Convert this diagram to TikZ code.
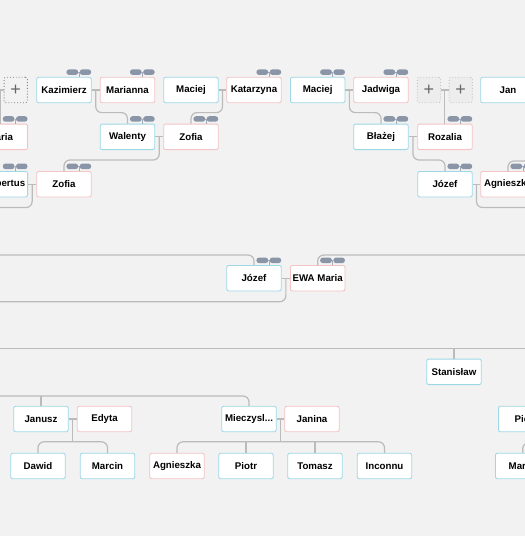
\documentclass[tikz,border=0pt]{standalone}
\usepackage{fontspec}
\setmainfont{Liberation Sans}
\usetikzlibrary{positioning, calc}

\definecolor{bgcol}{HTML}{F2F2F2}
\definecolor{malecol}{HTML}{9ED8E6}
\definecolor{femalecol}{HTML}{F4C3C3}
\definecolor{linkcol}{HTML}{BBBBBB}
\definecolor{pillcol}{HTML}{8A96A8}

\tikzset{
	person/.style={draw, rectangle, rounded corners=2pt, fill=white, line width=0.9pt, minimum width=54.5pt, minimum height=25.5pt, inner sep=0pt, font=\fontsize{9.7}{11}\selectfont\bfseries},
	male/.style={person, draw=malecol},
	female/.style={person, draw=femalecol},
	addbox/.style={draw, rectangle, rounded corners=2pt, dotted, line width=0.9pt, minimum width=23.3pt, minimum height=25.5pt, inner sep=0pt, text=black!60, font=\fontsize{18}{18}\selectfont},
	link/.style={draw=linkcol, line width=1.2pt, rounded corners=6pt},
}

\newcommand{\pills}[1]{%
	\begin{scope}[shift={(#1.north east)}]
		\draw[pillcol!80, line width=0.7pt] (-13.5,-4.6) -- (-12,-4.6) (-12.75,-4.6) -- (-12.75,0);
		\fill[pillcol, rounded corners=2.6pt] (-25.25,-7.4) rectangle (-13.5,-1.9);
		\fill[pillcol, rounded corners=2.6pt] (-12,-7.4) rectangle (-0.5,-1.9);
	\end{scope}}

\begin{document}
\begin{tikzpicture}[x=1pt, y=-1pt]

	\useasboundingbox (0,0) rectangle (525,536);
	\fill[bgcol] (0,0) rectangle (525,536);
	\clip (0,0) rectangle (525,536);

	% oldest generation
	\node[addbox, draw=black!50, fill=bgcol] (plusA) at (15.7, 90) {+};
	\node[male] (kazimierz) at (64, 90) {Kazimierz};
	\node[female] (marianna) at (127.5, 90) {Marianna};
	\node[male] (maciejA) at (191, 90) {Maciej};
	\node[female] (katarzyna) at (254, 90) {Katarzyna};
	\node[male] (maciejB) at (317.7, 90) {Maciej};
	\node[female] (jadwiga) at (381, 90) {Jadwiga};
	\node[addbox, draw=black!22, fill=black!7] (plusB) at (429, 90) {+};
	\node[addbox, draw=black!22, fill=black!7] (plusC) at (460.7, 90) {+};
	\node[male] (jan) at (508, 90) {Jan};

	\node[female] (maria) at (0.3, 136.8) {Maria};
	\node[male] (walenty) at (127.5, 136.8) {Walenty};
	\node[female] (zofiaA) at (191, 136.8) {Zofia};
	\node[male] (blazej) at (381, 136.8) {Błażej};
	\node[female] (rozalia) at (445, 136.8) {Rozalia};

	\node[male, text width=50pt, align=right] (rupertus) at (0.3, 184.2) {Rupertus};
	\node[female] (zofiaB) at (64, 184.2) {Zofia};
	\node[male] (jozefA) at (445, 184.2) {Józef};
	\node[female] (agnieszkaA) at (508, 184.2) {Agnieszka};

	\node[male] (jozefB) at (254, 278.2) {Józef};
	\node[female] (ewa) at (317.7, 278.2) {EWA Maria};

	\node[male] (stanislaw) at (454, 371.8) {Stanisław};

	\node[male] (janusz) at (41, 419) {Janusz};
	\node[female] (edyta) at (104.5, 419) {Edyta};
	\node[male] (mieczyslaw) at (249, 419) {Mieczysl...};
	\node[female] (janina) at (312, 419) {Janina};
	\node[male] (piotrA) at (525.7, 419) {Piotr};

	\node[male] (dawid) at (38, 466) {Dawid};
	\node[male] (marcin) at (107.5, 466) {Marcin};
	\node[female] (agnieszkaB) at (177, 466) {Agnieszka};
	\node[male] (piotrB) at (246, 466) {Piotr};
	\node[male] (tomasz) at (315, 466) {Tomasz};
	\node[male] (inconnu) at (384.5, 466) {Inconnu};
	\node[male] (marek) at (522.7, 466) {Marek};

	% couples and their children
	\coordinate (pa) at ($(plusA.west)+(-3,0)$);
	\draw[link] (plusA.west) -- ++(-10,0);
	\draw[link] (pa) -- (pa |- maria.north);

	\coordinate (km) at ($(kazimierz.east)!.5!(marianna.west)$);
	\draw[link] (kazimierz.east) -- (marianna.west);
	\draw[link] (km) |- ($(walenty.north)+(0,-11)$) -- (walenty.north);

	\coordinate (mk) at ($(maciejA.east)!.5!(katarzyna.west)$);
	\draw[link] (maciejA.east) -- (katarzyna.west);
	\draw[link] (mk) |- ($(zofiaA.north)+(0,-11)$) -- (zofiaA.north);

	\coordinate (mj) at ($(maciejB.east)!.5!(jadwiga.west)$);
	\draw[link] (maciejB.east) -- (jadwiga.west);
	\draw[link] (mj) |- ($(blazej.north)+(0,-11)$) -- (blazej.north);

	\coordinate (pp) at ($(plusB.east)!.5!(plusC.west)$);
	\draw[link] (plusB.east) -- (plusC.west);
	\draw[link] (pp) -- (pp |- rozalia.north);

	\coordinate (wz) at ($(walenty.east)!.5!(zofiaA.west)$);
	\draw[link] (walenty.east) -- (zofiaA.west);
	\draw[link] (wz) |- ($(zofiaB.north)+(0,-11)$) -- (zofiaB.north);

	\coordinate (br) at ($(blazej.east)!.5!(rozalia.west)$);
	\draw[link] (blazej.east) -- (rozalia.west);
	\draw[link] (br) |- ($(jozefA.north)+(0,-11)$) -- (jozefA.north);

	\coordinate (offA) at (-10, 207.5);
	\coordinate (rz) at ($(rupertus.east)!.5!(zofiaB.west)$);
	\draw[link] (rupertus.east) -- (zofiaB.west);
	\draw[link] (rz) |- (offA);

	\coordinate (offB) at (535, 207.5);
	\coordinate (ja) at ($(jozefA.east)!.5!(agnieszkaA.west)$);
	\draw[link] (jozefA.east) -- (agnieszkaA.west);
	\draw[link] (ja) |- (offB);

	\coordinate (offC) at (535, 161);
	\draw[link] (agnieszkaA.north) |- (offC);

	\coordinate (offD) at (-10, 255);
	\coordinate (offE) at (535, 255);
	\draw[link] (offD) -| (jozefB.north);
	\draw[link] (ewa.north) |- (offE);

	\coordinate (offF) at (-10, 301.7);
	\coordinate (je) at ($(jozefB.east)!.5!(ewa.west)$);
	\draw[link] (jozefB.east) -- (ewa.west);
	\draw[link] (je) |- (offF);

	\coordinate (offG) at (-10, 348.3);
	\coordinate (offH) at (535, 348.3);
	\draw[link] (offG) -- (offH);
	\draw[link] (stanislaw.north) -- (stanislaw.north |- offG);

	\coordinate (offI) at (-10, 396);
	\draw[link] (offI) -| (mieczyslaw.north);
	\draw[link] (janusz.north) -- (janusz.north |- offI);

	\coordinate (barA) at ($(dawid.north)+(0,-11)$);
	\coordinate (jed) at ($(janusz.east)!.5!(edyta.west)$);
	\draw[link] (janusz.east) -- (edyta.west);
	\draw[link] (jed) -- (jed |- barA);
	\draw[link] (dawid.north) -- (barA) -| (marcin.north);

	\coordinate (barB) at ($(agnieszkaB.north)+(0,-11)$);
	\coordinate (mja) at ($(mieczyslaw.east)!.5!(janina.west)$);
	\draw[link] (mieczyslaw.east) -- (janina.west);
	\draw[link] (mja) -- (mja |- barB);
	\draw[link] (agnieszkaB.north) -- (barB) -| (inconnu.north);
	\draw[link] (piotrB.north) -- (piotrB.north |- barB);
	\draw[link] (tomasz.north) -- (tomasz.north |- barB);

	\coordinate (offJ) at (535, 442.7);
	\draw[link] (marek.north) |- (offJ);

	% parent markers
	\foreach \who in {kazimierz, marianna, katarzyna, maciejB, jadwiga, maria, walenty, zofiaA, blazej, rozalia, rupertus, zofiaB, jozefA, agnieszkaA, jozefB, ewa}
		{\pills{\who}}

\end{tikzpicture}
\end{document}
